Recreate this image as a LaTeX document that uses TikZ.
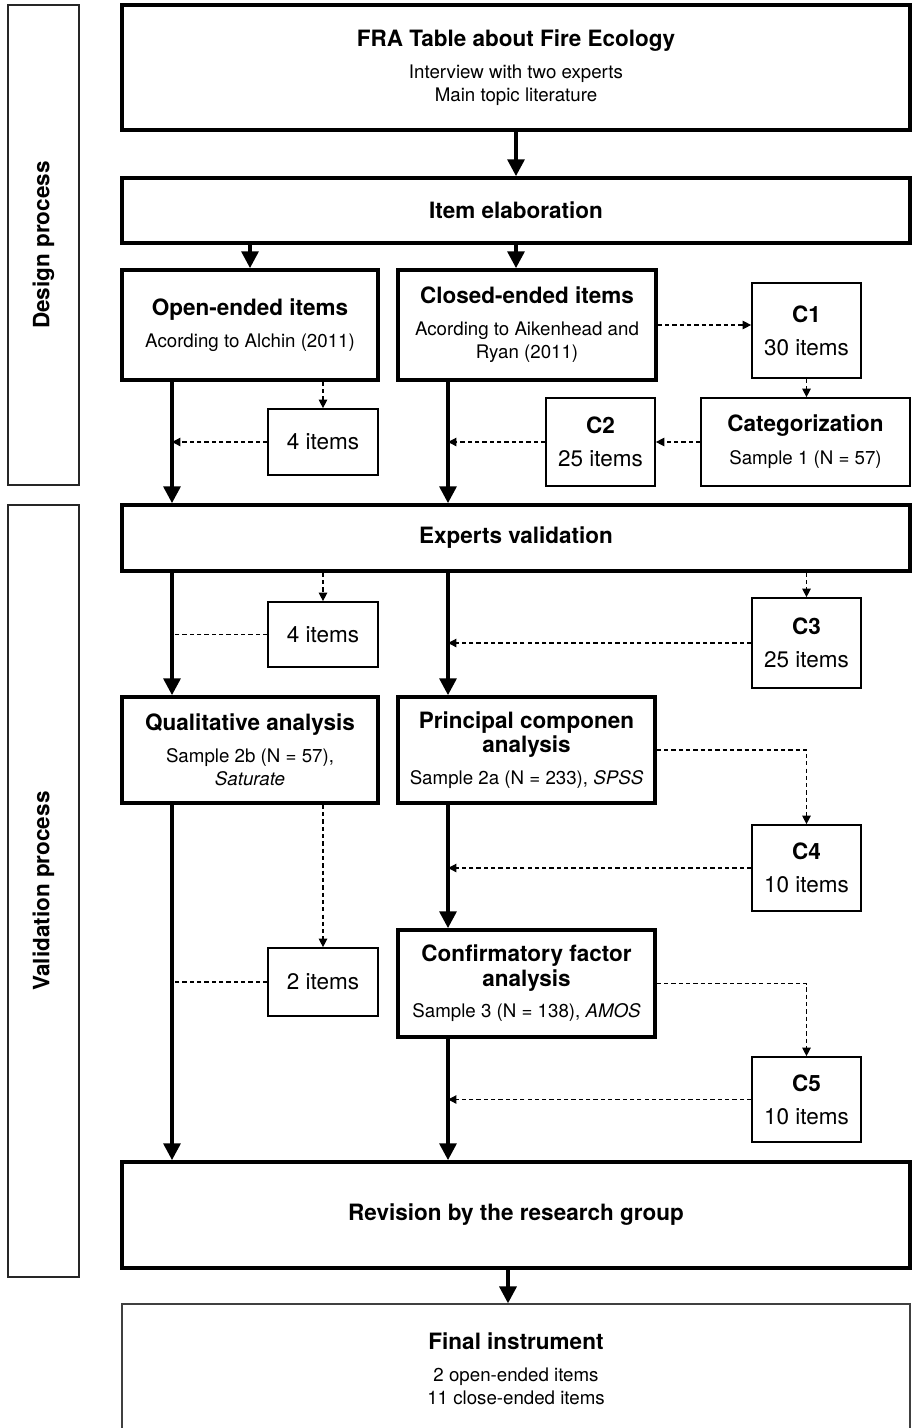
\documentclass[tikz,border=0pt]{standalone}
\usepackage{fontspec}
\setmainfont{TeX Gyre Heros}
\usetikzlibrary{arrows.meta}
\tikzset{>=Triangle}
\tikzset{
  bigbox/.style={draw, line width=2.6pt, align=center, inner sep=0pt, font=\fontsize{13.3}{16.5}\selectfont},
  itembox/.style={draw, line width=1.2pt, align=center, inner sep=0pt, font=\fontsize{16}{19.5}\selectfont},
  phasebox/.style={draw=black!85, line width=0.9pt, rotate=90, inner sep=0pt, minimum height=1.775cm, font=\fontsize{16}{19.5}\selectfont\bfseries},
  mainarr/.style={line width=2.6pt, -{Triangle[width=12pt, length=12pt]}},
  dasharr/.style={line width=0.9pt, dash pattern=on 3pt off 2.2pt, -{Triangle[width=6pt, length=6pt]}},
  dashline/.style={line width=0.9pt, dash pattern=on 3pt off 2.2pt},
}
\newcommand{\hd}[1]{{\fontsize{16}{19.5}\selectfont\bfseries #1}}

\begin{document}
\begin{tikzpicture}[x=0.025cm, y=-0.025cm]
  \useasboundingbox (0,0) rectangle (912,1428);

  % phases
  \node[phasebox, minimum width=12cm] (design) at (43.5,245) {Design process};
  \node[phasebox, minimum width=19.3cm] (valid) at (43.5,891) {Validation process};

  % design process
  \node[bigbox, minimum width=19.7cm, minimum height=3.125cm] (fra) at (516,67.5)
    {\hd{FRA Table about Fire Ecology}\\[6pt]Interview with two experts\\Main topic literature};
  \node[bigbox, minimum width=19.7cm, minimum height=1.625cm] (elab) at (516,210.5) {\hd{Item elaboration}};
  \node[bigbox, minimum width=6.4cm, minimum height=2.75cm] (open) at (250,325)
    {\hd{Open-ended items}\\[6.5pt]Acording to Alchin (2011)};
  \node[bigbox, minimum width=6.45cm, minimum height=2.75cm] (closed) at (527,325)
    {\hd{Closed-ended items}\\[6pt]Acording to Aikenhead and\\Ryan (2011)};
  \node[itembox, minimum width=2.725cm, minimum height=2.375cm] (c1) at (806.5,330.5) {\textbf{C1}\\[4pt]30 items};
  \node[itembox, minimum width=5.225cm, minimum height=2.2cm] (cat) at (805.5,442)
    {\textbf{Categorization}\\[4pt]{\fontsize{13.3}{16.5}\selectfont Sample 1 (N = 57)}};
  \node[itembox, minimum width=2.725cm, minimum height=2.2cm] (c2) at (600.5,442) {\textbf{C2}\\[4pt]25 items};
  \node[itembox, minimum width=2.75cm, minimum height=1.65cm] (four1) at (323,442) {4 items};

  % validation process
  \node[bigbox, minimum width=19.7cm, minimum height=1.65cm] (expert) at (516,538) {\hd{Experts validation}};
  \node[itembox, minimum width=2.75cm, minimum height=1.625cm] (four2) at (323,634.5) {4 items};
  \node[itembox, minimum width=2.725cm, minimum height=2.25cm] (c3) at (806.5,643) {\textbf{C3}\\[4pt]25 items};
  \node[bigbox, minimum width=6.4cm, minimum height=2.65cm] (qual) at (250,750)
    {\hd{Qualitative analysis}\\[6pt]Sample 2b (N = 57),\\\textit{Saturate}};
  \node[bigbox, minimum width=6.425cm, minimum height=2.65cm] (pca) at (526.5,750)
    {\hd{Principal componen}\\[1pt]\hd{analysis}\\[6pt]Sample 2a (N = 233), \textit{SPSS}};
  \node[itembox, minimum width=2.725cm, minimum height=2.15cm] (c4) at (806.5,868) {\textbf{C4}\\[4pt]10 items};
  \node[bigbox, minimum width=6.425cm, minimum height=2.675cm] (cfa) at (526.5,983.5)
    {\hd{Confirmatory factor}\\[1pt]\hd{analysis}\\[6pt]Sample 3 (N = 138), \textit{AMOS}};
  \node[itembox, minimum width=2.75cm, minimum height=1.7cm] (two) at (323,982) {2 items};
  \node[itembox, minimum width=2.725cm, minimum height=2.125cm] (c5) at (806.5,1099.5) {\textbf{C5}\\[4pt]10 items};
  \node[bigbox, minimum width=19.7cm, minimum height=2.65cm] (rev) at (516,1215) {\hd{Revision by the research group}};
  \node[draw=black!75, line width=0.9pt, align=center, inner sep=0pt, minimum width=19.7cm, minimum height=3.25cm,
        font=\fontsize{13.3}{16.5}\selectfont] (final) at (516,1369)
    {\hd{Final instrument}\\[6pt]2 open-ended items\\11 close-ended items};

  % columns
  \coordinate (colL) at (172,0);
  \coordinate (colR) at (448,0);
  \coordinate (colC) at (516,0);
  \coordinate (colM) at (508,0);

  \draw[mainarr] (colC |- fra.south) -- (colC |- elab.north);
  \draw[mainarr] (elab.south -| open.north) -- (open.north);
  \draw[mainarr] (colC |- elab.south) -- (colC |- closed.north);
  \draw[mainarr] (colL |- open.south) -- (colL |- expert.north);
  \draw[mainarr] (colR |- closed.south) -- (colR |- expert.north);
  \draw[mainarr] (colL |- expert.south) -- (colL |- qual.north);
  \draw[mainarr] (colR |- expert.south) -- (colR |- pca.north);
  \draw[mainarr] (colR |- pca.south) -- (colR |- cfa.north);
  \draw[mainarr] (colL |- qual.south) -- (colL |- rev.north);
  \draw[mainarr] (colR |- cfa.south) -- (colR |- rev.north);
  \draw[mainarr] (colM |- rev.south) -- (colM |- final.north);

  \draw[dasharr] (closed.east) -- (closed.east -| c1.west);
  \draw[dasharr] (c1.south) -- (c1.south |- cat.north);
  \draw[dasharr] (cat.west) -- (c2.east);
  \draw[dasharr] (c2.west) -- (c2.west -| colR);
  \draw[dasharr] (open.south -| four1.north) -- (four1.north);
  \draw[dasharr] (four1.west) -- (four1.west -| colL);
  \draw[dasharr] (expert.south -| four2.north) -- (four2.north);
  \draw[dashline] (four2.west) -- (four2.west -| colL);
  \draw[dasharr] (expert.south -| c3.north) -- (c3.north);
  \draw[dasharr] (c3.west) -- (c3.west -| colR);
  \draw[dasharr] (pca.east) -| (c4.north);
  \draw[dasharr] (c4.west) -- (c4.west -| colR);
  \draw[dasharr] (cfa.east) -| (c5.north);
  \draw[dasharr] (c5.west) -- (c5.west -| colR);
  \draw[dasharr] (qual.south -| two.north) -- (two.north);
  \draw[dashline] (two.west) -- (two.west -| colL);
\end{tikzpicture}
\end{document}
